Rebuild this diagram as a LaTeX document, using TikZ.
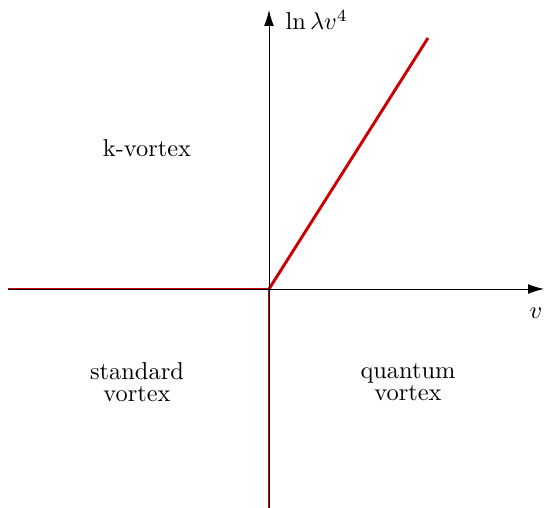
\documentclass[tikz,border=0pt]{standalone}
\usetikzlibrary{arrows.meta, positioning}

\begin{document}
\begin{tikzpicture}[
    >={Latex[length=6.5pt, width=4pt]}, x=0.0144cm, y=0.0144cm
  ]
  \useasboundingbox (-269,-219) rectangle (275,289);
  \coordinate (o) at (0,0);
  \coordinate (xl) at (-261,0);
  \coordinate (xr) at (275,0);
  \coordinate (yb) at (0,-219);
  \coordinate (yt) at (0,279);
  \coordinate (ray) at (159,251);

  % phase boundaries
  \draw[red!80!black, line width=1.2pt] (xl) -- (o) -- (yb);
  \draw[red!80!black, line width=1.2pt] (o) -- (ray);

  % axes
  \draw[->, line width=0.4pt] (xl) -- (xr);
  \draw[->, line width=0.4pt] (yb) -- (yt);
  \node[anchor=west] (ylab) at (8,269) {$\ln\lambda v^4$};
  \node (xlab) at (267,-24) {$v$};

  \node (kv) at (-122,141) {k-vortex};
  \node[align=center] (sv) at (-132,-93) {standard\\[-3pt]vortex};
  \node[align=center] (qv) at (139,-93) {quantum\\[-3pt]vortex};
\end{tikzpicture}
\end{document}
